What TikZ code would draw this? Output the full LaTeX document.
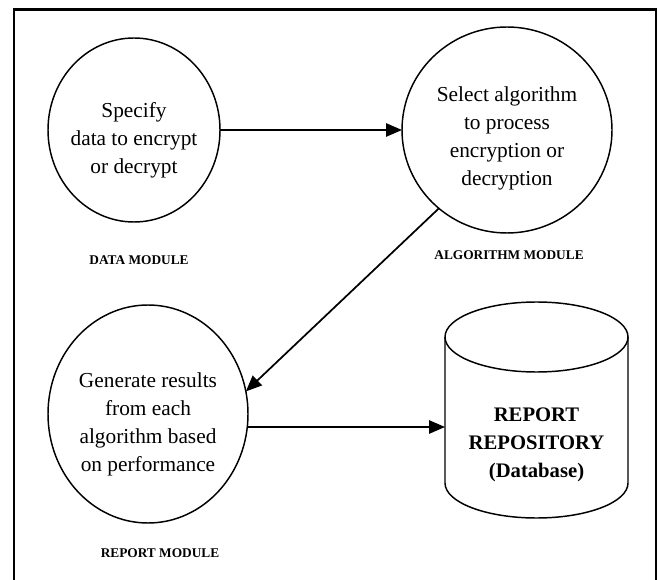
\documentclass[tikz,border=0pt]{standalone}
\usepackage{fontspec}
\setmainfont{Liberation Serif}
\usepackage{tikz}
\usetikzlibrary{shapes.geometric,arrows.meta,positioning}

\begin{document}
\begin{tikzpicture}[
    node distance=2cm,
    process/.style={ellipse, draw, line width=1.1pt, inner sep=0pt, outer sep=0pt, align=center, font=\fontsize{16pt}{21pt}\selectfont},
    store/.style={rectangle, inner sep=0pt, outer sep=0pt, minimum width=137.25pt, minimum height=109.5pt, align=center, font=\fontsize{15.5pt}{21pt}\selectfont\bfseries},
    caption/.style={inner sep=0pt, font=\fontsize{10pt}{12pt}\selectfont\bfseries},
    arrow/.style={-{Triangle[length=12pt,width=10pt]}, line width=1.3pt}
]

\useasboundingbox (0,0) rectangle (494.25pt,-435pt);
\draw[line width=1.6pt] (10.5pt,-450pt) |- (492pt,-7.1pt) -- (492pt,-450pt);

\node[process, minimum width=129pt, minimum height=138pt, inner xsep=-3pt, text height=68pt] (data) at (100.5pt,-97.5pt) {Specify\\data to encrypt\\or decrypt};
\node[process, right=136.5pt of data, minimum width=157.5pt, minimum height=154.5pt, text height=86.7pt] (algo) {Select algorithm\\to process\\encryption or\\decryption};
\node[process, below=62.25pt of data, xshift=10.5pt, minimum width=150pt, minimum height=163.5pt, text height=90.4pt] (report) {Generate results\\from each\\algorithm based\\on performance};
\node[store, right=147.75pt of report, yshift=-23.25pt] (repo) {REPORT\\REPOSITORY\\(Database)};

% cylinder round the repository
\draw[line width=1.1pt] ([yshift=26.25pt]repo.north) ellipse (68.625pt and 26.25pt);
\draw[line width=1.1pt] ([yshift=26.25pt]repo.north west) -- ([yshift=26.25pt]repo.south west)
    arc[start angle=180, end angle=360, x radius=68.625pt, y radius=26.25pt]
    -- ([yshift=26.25pt]repo.north east);

\node[caption, below=25.2pt of data, xshift=3.75pt] (datacap) {DATA MODULE};
\node[caption, below=13.2pt of algo, xshift=1.5pt] (algocap) {ALGORITHM MODULE};
\node[caption, below=19.2pt of report, xshift=9pt] (reportcap) {REPORT MODULE};

\draw[arrow] (data) -- (algo);
\draw[arrow] (algo.-131) -- (report.13);
\draw[arrow] ([yshift=-9.75pt]report.east) -- ([yshift=-9.75pt]report.east -| repo.west);

\end{tikzpicture}
\end{document}
